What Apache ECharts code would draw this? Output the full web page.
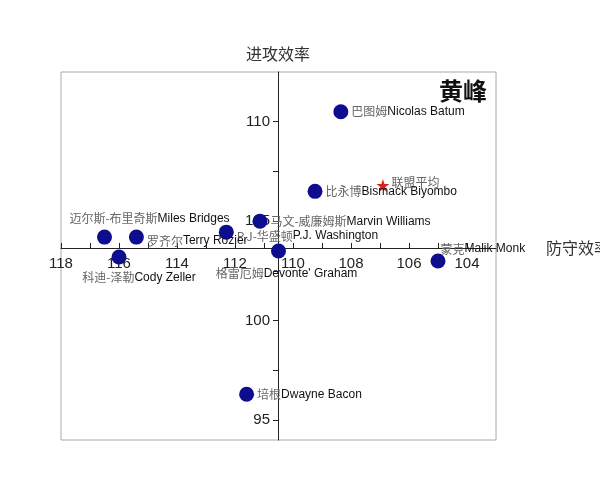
<!DOCTYPE html><html><head><meta charset="utf-8"><script src="https://cdn.jsdelivr.net/npm/echarts@6/dist/echarts.min.js"></script></head><body style="margin:0"><div id="c" style="width:600px;height:480px"></div><script>
const cnNames=['巴图姆','比永博','马文-威廉姆斯','P.J-华盛顿','迈尔斯-布里奇斯','罗齐尔','科迪-泽勒','格雷厄姆','蒙克','培根'];
const enNames=['Nicolas Batum','Bismack Biyombo','Marvin Williams','P.J. Washington','Miles Bridges','Terry Rozier','Cody Zeller','Devonte\' Graham','Malik Monk','Dwayne Bacon'];
const defEff=[108.35,109.24,111.14,112.3,116.5,115.4,116.0,110.5,105.0,111.6];
const offEff=[110.5,106.5,105.0,104.45,104.2,104.2,103.2,103.5,103.0,96.3];
const avgDef=[106.9], avgOff=[106.8];
const xLabels=[104,106,108,110,112,114,116,118], yLabels=[95,100,105,110];
const pos=[['right',[0,0]],['right',[0,0]],['right',[0,0]],['right',[0,4]],['top',[45,-2]],['right',[0,4]],['bottom',[20,4]],['bottom',[8,6]],['right',[-8,-12]],['right',[0,0]]];
const data=defEff.map((x,i)=>({value:[x,offEff[i]],label:{position:pos[i][0],offset:pos[i][1],formatter:'{a|'+cnNames[i]+'}{b|'+enNames[i]+'}'}}));
const ch=echarts.init(document.getElementById('c'));
ch.setOption({
grid:{left:61,right:104,top:72,bottom:40,show:true,borderColor:'#aaa',borderWidth:1,outerBoundsMode:'none',containLabel:false},
title:{text:'黄峰',right:108,top:74,textStyle:{fontSize:24,fontWeight:'bold',color:'#111',fontFamily:'Noto Sans CJK SC'}},
xAxis:{type:'value',inverse:true,min:103,max:118,offset:-192,position:'bottom',name:'防守效率',nameLocation:'start',nameGap:0,
 nameTextStyle:{fontSize:16,color:'#333',fontFamily:'Noto Sans CJK SC',padding:[60,0,0,50]},
 axisLine:{show:true,lineStyle:{color:'#222'}},splitLine:{show:false},
 axisTick:{show:true,inside:true,customValues:[104,105,106,107,108,109,110,111,112,113,114,115,116,117,118],lineStyle:{color:'#222'}},
 axisLabel:{customValues:xLabels,fontSize:15,color:'#222',fontFamily:'Liberation Sans',margin:8}},
yAxis:{type:'value',min:94,max:112.5,offset:-217,position:'left',name:'进攻效率',nameGap:10,
 nameTextStyle:{fontSize:16,color:'#333',fontFamily:'Noto Sans CJK SC'},
 axisLine:{show:true,lineStyle:{color:'#222'}},splitLine:{show:false},
 axisTick:{show:true,customValues:[95,97.5,100,102.5,105,107.5,110],lineStyle:{color:'#222'}},
 axisLabel:{customValues:yLabels,fontSize:15,color:'#222',fontFamily:'Liberation Sans'}},
series:[{type:'scatter',symbolSize:15,itemStyle:{color:'#0d0d8f',opacity:1},data:data,
 label:{show:true,distance:3,rich:{a:{fontSize:12,color:'#666',fontFamily:'Noto Sans CJK SC'},b:{fontSize:12,color:'#111',fontFamily:'Liberation Sans'}}}},
 {type:'scatter',symbol:'path://M50,0 L61,35 L98,35 L68,57 L79,91 L50,70 L21,91 L32,57 L2,35 L39,35 Z',symbolSize:13,itemStyle:{color:'#e0201b',opacity:1},
 data:avgDef.map((x,i)=>[x,avgOff[i]]),label:{show:true,position:'right',distance:2,formatter:'联盟平均',fontSize:12,color:'#666',fontFamily:'Noto Sans CJK SC',offset:[0,-3]}}]
});
</script></body></html>
